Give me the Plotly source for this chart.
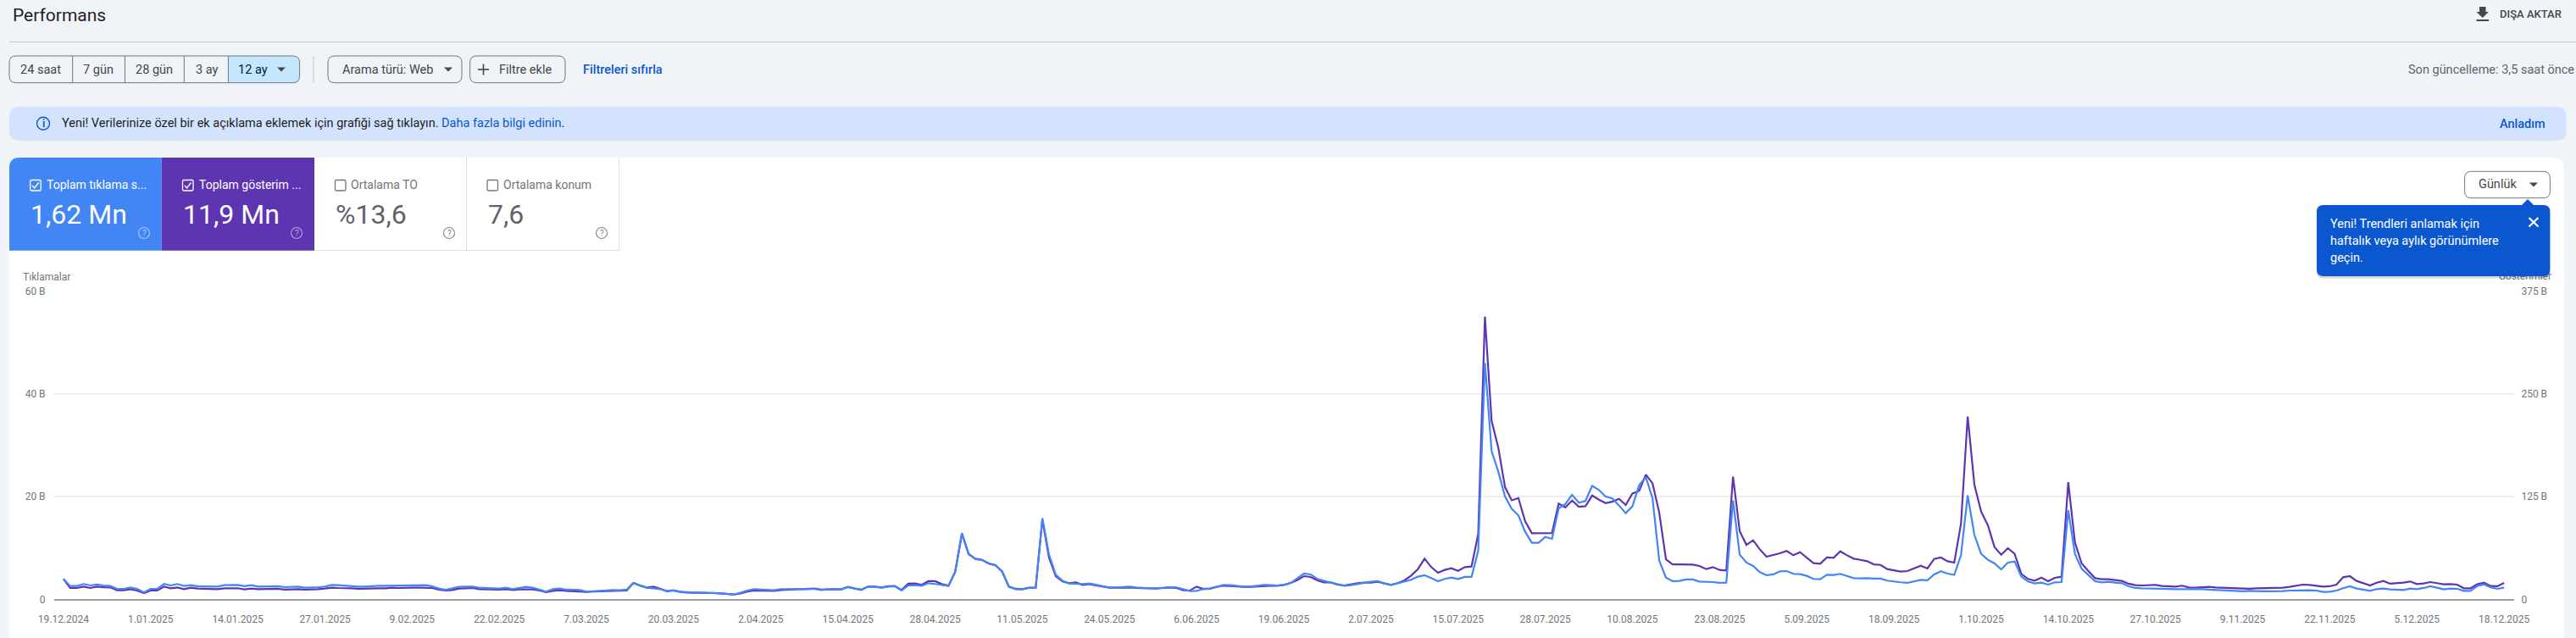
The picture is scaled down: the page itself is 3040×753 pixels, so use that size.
"""Search Console - Performans ekrani (Plotly)."""
import pandas as pd
import plotly.graph_objects as go

W, H = 3040, 753

BLUE = "#4285f4"
PURPLE = "#5e35b1"
LINK = "#0b57d0"
GREY = "#5f6368"
TICK = "#70757a"
DARK = "#444746"
BORDER = "#747775"

start_date = "2024-12-19"

# Toplam tiklama, gunluk (bin)
clicks = [
    3.96, 2.58, 2.58, 2.97, 2.69, 2.86, 2.69, 2.58, 2.03, 2.03,
    2.31, 2.03, 1.32, 2.03, 2.03, 2.97, 2.69, 2.97, 2.58, 2.75,
    2.53, 2.53, 2.47, 2.47, 2.75, 2.80, 2.80, 2.53, 2.75, 2.47,
    2.47, 2.58, 2.53, 2.36, 2.47, 2.47, 2.25, 2.25, 2.36, 2.47,
    2.80, 2.75, 2.64, 2.53, 2.47, 2.47, 2.58, 2.64, 2.64, 2.64,
    2.64, 2.69, 2.75, 2.75, 2.75, 2.53, 2.09, 1.87, 2.09, 2.42,
    2.47, 2.47, 2.25, 2.14, 2.14, 2.09, 2.25, 1.98, 2.14, 2.42,
    2.25, 1.92, 1.48, 1.98, 2.09, 1.87, 1.87, 1.81, 1.48, 1.59,
    1.70, 1.70, 1.81, 1.76, 1.87, 3.19, 2.69, 2.25, 2.14, 1.98,
    1.65, 1.76, 1.48, 1.37, 1.32, 1.32, 1.32, 1.21, 1.15, 1.04,
    0.93, 1.26, 1.70, 1.98, 1.92, 1.87, 1.76, 1.98, 1.98, 1.87,
    1.98, 1.98, 2.03, 1.81, 1.92, 1.98, 1.92, 2.36, 2.09, 1.81,
    2.42, 2.42, 2.25, 2.47, 2.53, 1.70, 2.69, 2.75, 2.64, 3.13,
    2.97, 2.75, 2.58, 5.44, 12.86, 8.90, 7.80, 7.64, 6.92, 6.59,
    5.33, 2.42, 1.98, 1.92, 2.20, 2.20, 15.77, 8.63, 4.78, 3.57,
    3.08, 3.02, 2.97, 3.08, 2.80, 2.58, 2.31, 2.31, 2.42, 2.47,
    2.31, 2.20, 2.14, 2.14, 2.25, 2.36, 2.31, 1.92, 1.59, 1.65,
    1.98, 2.03, 2.47, 2.80, 2.75, 2.58, 2.47, 2.47, 2.64, 2.80,
    2.75, 2.69, 2.80, 3.13, 4.07, 5.00, 4.84, 3.96, 3.57, 3.24,
    2.86, 2.64, 2.75, 2.91, 3.19, 3.41, 3.52, 3.08, 2.80, 3.13,
    3.52, 3.79, 4.40, 4.67, 4.12, 3.52, 3.96, 4.23, 3.96, 4.34,
    4.34, 9.45, 45.99, 28.79, 24.84, 20.00, 17.58, 16.32, 13.13, 10.99,
    10.99, 12.14, 11.76, 17.69, 18.52, 20.33, 18.79, 19.12, 22.09, 21.26,
    20.00, 19.62, 18.24, 16.76, 18.08, 22.20, 23.74, 19.62, 7.53, 4.23,
    3.52, 3.57, 3.85, 3.85, 3.46, 3.46, 3.35, 3.19, 3.24, 19.23,
    8.68, 7.14, 6.48, 5.27, 4.67, 4.84, 5.44, 5.49, 4.95, 4.89,
    4.56, 3.96, 3.90, 4.78, 4.73, 4.95, 4.56, 4.12, 4.07, 4.12,
    4.01, 4.01, 3.63, 3.41, 3.30, 3.19, 3.46, 3.79, 3.68, 4.84,
    5.44, 5.00, 4.73, 8.57, 20.22, 12.53, 8.85, 7.69, 6.98, 5.82,
    7.14, 7.36, 4.40, 3.46, 3.08, 3.24, 2.86, 3.30, 3.35, 17.31,
    8.79, 5.93, 4.73, 3.52, 3.30, 3.41, 3.24, 3.13, 2.53, 2.20,
    2.14, 2.09, 2.09, 1.98, 1.92, 1.98, 1.98, 1.98, 2.03, 1.98,
    1.87, 1.81, 1.65, 1.65, 1.54, 1.54, 1.65, 1.54, 1.54, 1.54,
    1.54, 1.59, 1.70, 1.76, 1.76, 1.76, 1.70, 1.43, 1.48, 1.70,
    2.14, 2.53, 2.09, 1.87, 1.65, 1.98, 2.09, 1.92, 1.87, 1.81,
    2.09, 1.98, 2.20, 2.53, 2.25, 1.92, 2.09, 2.03, 1.65, 1.65,
    2.58, 2.91, 2.31, 2.03, 2.25,
]

# Toplam gosterim, gunluk (bin)
impressions = [
    24.7, 13.7, 13.7, 15.4, 13.7, 15.4, 14.7, 14.4, 11.0, 11.0,
    12.3, 10.6, 7.5, 10.6, 10.6, 15.4, 13.4, 14.4, 12.3, 14.1,
    13.0, 12.7, 12.3, 12.3, 13.4, 13.7, 13.4, 12.0, 13.0, 12.3,
    12.3, 13.0, 12.7, 11.7, 12.3, 12.3, 11.7, 11.7, 12.3, 13.0,
    14.1, 13.7, 13.7, 13.4, 12.7, 13.0, 13.7, 13.4, 13.4, 14.1,
    13.7, 14.1, 14.1, 14.1, 14.1, 13.7, 11.7, 10.6, 11.3, 13.0,
    13.4, 13.7, 12.3, 12.0, 11.7, 11.7, 12.3, 11.3, 12.0, 12.3,
    12.0, 10.6, 8.6, 10.3, 11.0, 10.3, 9.9, 9.6, 8.9, 9.3,
    9.9, 9.9, 10.3, 10.3, 10.6, 19.9, 16.5, 14.1, 15.4, 13.0,
    9.6, 10.6, 8.9, 8.2, 8.2, 8.2, 8.2, 7.5, 7.2, 6.5,
    5.8, 7.2, 9.3, 10.6, 10.3, 10.3, 10.3, 11.3, 11.7, 12.0,
    12.7, 12.7, 13.0, 11.7, 12.3, 12.3, 12.0, 15.1, 13.0, 11.7,
    15.4, 15.4, 14.4, 15.8, 16.1, 11.3, 18.9, 19.2, 17.5, 22.0,
    22.0, 18.5, 16.5, 33.3, 79.6, 54.9, 49.4, 48.0, 43.6, 41.5,
    34.0, 15.4, 12.7, 12.3, 14.1, 14.1, 96.7, 50.4, 28.1, 21.6,
    19.6, 20.6, 17.5, 18.5, 16.8, 15.4, 14.1, 14.1, 14.4, 14.4,
    13.7, 13.4, 12.7, 13.0, 13.7, 14.4, 13.7, 11.0, 10.6, 15.4,
    12.7, 13.0, 15.1, 16.5, 16.1, 15.4, 15.1, 15.1, 15.8, 15.8,
    16.5, 16.5, 17.5, 19.9, 23.3, 28.1, 27.1, 23.0, 20.6, 20.6,
    17.8, 16.8, 18.2, 19.6, 20.2, 20.2, 21.3, 19.2, 17.5, 19.6,
    23.0, 28.8, 36.7, 49.4, 39.1, 32.2, 35.7, 37.7, 34.6, 39.1,
    39.8, 79.3, 343.7, 216.8, 184.2, 136.2, 120.4, 123.1, 94.7, 80.3,
    80.3, 80.6, 80.6, 116.3, 111.8, 120.1, 112.5, 113.2, 126.2, 121.1,
    117.0, 118.7, 122.1, 114.6, 128.6, 131.7, 151.6, 141.0, 105.3, 48.7,
    42.5, 42.5, 42.5, 42.2, 40.5, 36.7, 39.1, 35.7, 35.0, 149.2,
    82.7, 66.2, 71.7, 60.7, 51.8, 53.5, 55.9, 58.7, 53.5, 57.3,
    50.1, 43.9, 43.2, 50.8, 50.4, 58.3, 53.5, 49.4, 48.0, 46.3,
    42.5, 41.8, 36.7, 35.0, 33.6, 34.3, 37.7, 40.8, 37.4, 49.0,
    50.8, 46.3, 44.6, 91.9, 222.3, 139.3, 106.7, 90.2, 63.5, 54.2,
    62.1, 55.2, 30.9, 24.7, 22.6, 26.4, 22.0, 26.1, 27.4, 142.3,
    68.9, 43.6, 34.3, 25.7, 24.4, 24.4, 23.3, 22.3, 18.9, 17.2,
    16.8, 17.2, 17.5, 16.1, 15.4, 15.4, 16.5, 14.4, 14.1, 14.4,
    15.1, 14.4, 14.1, 13.7, 13.0, 12.7, 12.7, 13.4, 13.7, 13.7,
    13.7, 14.1, 15.1, 16.8, 17.8, 17.5, 16.8, 15.4, 15.8, 17.8,
    26.8, 28.1, 22.3, 19.6, 16.8, 20.2, 22.3, 18.9, 19.2, 20.2,
    21.6, 18.5, 19.2, 20.9, 19.6, 18.2, 18.5, 17.8, 13.4, 13.4,
    18.2, 20.2, 16.1, 15.8, 19.9,
]

tick_dates = ["2024-12-19", "2025-01-01", "2025-01-14", "2025-01-27", "2025-02-09",
              "2025-02-22", "2025-03-07", "2025-03-20", "2025-04-02", "2025-04-15",
              "2025-04-28", "2025-05-11", "2025-05-24", "2025-06-06", "2025-06-19",
              "2025-07-02", "2025-07-15", "2025-07-28", "2025-08-10", "2025-08-23",
              "2025-09-05", "2025-09-18", "2025-10-01", "2025-10-14", "2025-10-27",
              "2025-11-09", "2025-11-22", "2025-12-05", "2025-12-18"]
tick_labels = ["19.12.2024", "1.01.2025", "14.01.2025", "27.01.2025", "9.02.2025",
               "22.02.2025", "7.03.2025", "20.03.2025", "2.04.2025", "15.04.2025",
               "28.04.2025", "11.05.2025", "24.05.2025", "6.06.2025", "19.06.2025",
               "2.07.2025", "15.07.2025", "28.07.2025", "10.08.2025", "23.08.2025",
               "5.09.2025", "18.09.2025", "1.10.2025", "14.10.2025", "27.10.2025",
               "9.11.2025", "22.11.2025", "5.12.2025", "18.12.2025"]
clicks_ticks = [0, 20, 40, 60]
clicks_labels = ["0", "20 B", "40 B", "60 B"]
impr_ticks = [0, 125, 250, 375]
impr_labels = ["0", "125 B", "250 B", "375 B"]

dates = pd.date_range(start_date, periods=len(clicks))


def px(x):
    return x / W


def py(y):
    return 1 - y / H


def pth(*pts):
    return "M" + " L".join(f"{px(x):.6f},{py(y):.6f}" for x, y in pts) + " Z"


def rrect(x0, y0, x1, y1, r=8, tl=True, tr=True, br=True, bl=True):
    # koseleri yuvarlatilmis dikdortgen (paper koordinatlari)
    def p(x, y):
        return f"{px(x):.6f},{py(y):.6f}"
    s = "M" + p(x0 + (r if tl else 0), y0)
    s += " L" + p(x1 - (r if tr else 0), y0)
    if tr:
        s += " Q" + p(x1, y0) + " " + p(x1, y0 + r)
    s += " L" + p(x1, y1 - (r if br else 0))
    if br:
        s += " Q" + p(x1, y1) + " " + p(x1 - r, y1)
    s += " L" + p(x0 + (r if bl else 0), y1)
    if bl:
        s += " Q" + p(x0, y1) + " " + p(x0, y1 - r)
    s += " L" + p(x0, y0 + (r if tl else 0))
    if tl:
        s += " Q" + p(x0, y0) + " " + p(x0 + r, y0)
    return s + " Z"


shapes = []
notes = []


def add_path(path, fill="rgba(0,0,0,0)", line=None, width=1, layer="above"):
    shapes.append(dict(type="path", xref="paper", yref="paper", path=path, fillcolor=fill,
                       line=dict(color=line or "rgba(0,0,0,0)", width=width if line else 0),
                       layer=layer))


def add_line(x0, y0, x1, y1, color, width=1):
    shapes.append(dict(type="line", xref="paper", yref="paper", x0=px(x0), y0=py(y0),
                       x1=px(x1), y1=py(y1), line=dict(color=color, width=width), layer="above"))


def add_circle(cx, cy, r, color, width=1.2):
    shapes.append(dict(type="circle", xref="paper", yref="paper", x0=px(cx - r), y0=py(cy + r),
                       x1=px(cx + r), y1=py(cy - r), line=dict(color=color, width=width),
                       layer="above"))


def txt(x, y, s, size=14.5, color=DARK, anchor="left", weight=400):
    notes.append(dict(xref="paper", yref="paper", x=px(x), y=py(y), text=s, showarrow=False,
                      xanchor=anchor, yanchor="middle", borderpad=0, borderwidth=0,
                      font=dict(family="Roboto", size=size, color=color, weight=weight)))


def caret(cx, cy, color=DARK):
    add_path(pth((cx - 5, cy - 2.5), (cx + 5, cy - 2.5), (cx, cy + 2.5)), fill=color)


def checkbox(x, y, color, checked):
    add_path(rrect(x, y, x + 12.5, y + 12.5, r=1.5), line=color, width=1.3)
    if checked:
        shapes.append(dict(type="path", xref="paper", yref="paper", layer="above",
                           path=f"M{px(x + 2.5)},{py(y + 6.5)} L{px(x + 5)},{py(y + 9.5)} "
                                f"L{px(x + 10)},{py(y + 3)}",
                           line=dict(color=color, width=1.4)))


# Beyaz kart
add_path(rrect(11, 186, 3026, 760, r=12), fill="#ffffff", layer="below")

# Baslik
txt(15, 18, "Performans", size=21, color="#1f1f1f")
add_line(11, 49.5, 3040, 49.5, "#c7c7c7", 1)
add_path(pth((2926, 8), (2933.5, 8), (2933.5, 14), (2937, 14), (2929.7, 21), (2922.5, 14), (2926, 14)),
         fill=DARK)
add_path(pth((2922.5, 23), (2937, 23), (2937, 25), (2922.5, 25)), fill=DARK)
txt(2950, 17, "DIŞA AKTAR", size=13, color=DARK, weight=500)

# Tarih dugmeleri
add_path(rrect(269.4, 66, 353.6, 97.7, r=8, tl=False, bl=False), fill="#c2e7ff")
add_path(rrect(11, 66, 353.6, 97.7, r=8), line=BORDER)
for sep_x in [85.7, 147.4, 217.3, 269.4]:
    add_line(sep_x, 66, sep_x, 97.7, BORDER)
txt(48, 82, "24 saat", anchor="center")
txt(116, 82, "7 gün", anchor="center")
txt(182, 82, "28 gün", anchor="center")
txt(244, 82, "3 ay", anchor="center")
txt(298.5, 82, "12 ay", anchor="center", color="#001d35")
caret(332, 82)
add_line(370, 66, 370, 98, "#c7c7c7")

add_path(rrect(387, 66, 545, 97.7, r=8), line=BORDER)
txt(457, 82, "Arama türü: Web", anchor="center")
caret(529, 82)
add_path(rrect(554.6, 66, 667, 97.7, r=8), line=BORDER)
add_line(564, 82, 577, 82, DARK, 1.6)
add_line(570.5, 75.5, 570.5, 88.5, DARK, 1.6)
txt(620, 82, "Filtre ekle", anchor="center")
txt(735, 82, "Filtreleri sıfırla", anchor="center", color=LINK, weight=500)
txt(3038, 82, "Son güncelleme: 3,5 saat önce", anchor="right", color=GREY)

# Bilgi seridi
add_path(rrect(11, 126, 3028.6, 166, r=12), fill="#d3e3fd")
add_circle(51, 145.7, 7.5, LINK, 1.4)
txt(51, 146, "i", size=12, color=LINK, anchor="center", weight=700)
txt(73, 145.5,
    "Yeni! Verilerinize özel bir ek açıklama eklemek için grafiği sağ tıklayın. "
    f"<span style='color:{LINK}'>Daha fazla bilgi edinin</span>.",
    color="#1f1f1f")
txt(2977, 146, "Anladım", anchor="center", color=LINK, weight=500)

# Ozet kartlari
add_path(rrect(11, 186, 190.8, 295.7, r=12, tr=False, br=False, bl=False), fill=BLUE)
add_path(pth((190.8, 186), (371, 186), (371, 295.7), (190.8, 295.7)), fill=PURPLE)
add_line(371, 295.5, 730.6, 295.5, "#e0e0e0")
add_line(550.5, 186, 550.5, 295.5, "#e0e0e0")
add_line(730.6, 186, 730.6, 295.5, "#e0e0e0")
checkbox(35.7, 212.5, "#ffffff", True)
checkbox(215.5, 212.5, "#ffffff", True)
checkbox(395.5, 212.5, "#757575", False)
checkbox(575, 212.5, "#757575", False)
txt(54.6, 217.7, "Toplam tıklama s...", size=14, color="#ffffff")
txt(234.7, 217.7, "Toplam gösterim ...", size=14, color="#ffffff")
txt(414, 217.7, "Ortalama TO", size=14, color="#757575")
txt(594, 217.7, "Ortalama konum", size=14, color="#757575")
txt(35.7, 253, "1,62 Mn", size=32, color="#ffffff")
txt(216, 253, "11,9 Mn", size=32, color="#ffffff")
txt(396, 253, "%13,6", size=32, color=GREY)
txt(575.5, 253, "7,6", size=32, color=GREY)
for hx, hc in [(170, "rgba(255,255,255,0.55)"), (350, "rgba(255,255,255,0.55)"),
               (530, "#80868b"), (710, "#80868b")]:
    add_circle(hx, 275, 6.5, hc, 1.1)
    txt(hx, 275.5, "?", size=10, color=hc, anchor="center")

# Gunluk dugmesi ve ipucu
add_path(rrect(2908.6, 202.3, 3009.4, 233.7, r=8), line=BORDER)
txt(2947.8, 218, "Günlük", anchor="center")
caret(2990, 218)
add_path(rrect(2734, 244, 3009.4, 328.5, r=8), fill="rgba(0,0,0,0.16)")
add_path(pth((2976, 242), (2983, 235), (2990, 242)), fill=LINK)
add_path(rrect(2734, 242, 3009.4, 326, r=8), fill=LINK)
txt(2750, 264, "Yeni! Trendleri anlamak için", color="#ffffff")
txt(2750, 284, "haftalık veya aylık görünümlere", color="#ffffff")
txt(2750, 304, "geçin.", color="#ffffff")
add_line(2984.5, 257, 2995.5, 267.5, "#ffffff", 2.2)
add_line(2995.5, 257, 2984.5, 267.5, "#ffffff", 2.2)

txt(27, 327, "Tıklamalar", size=12, color=TICK)

fig = go.Figure()
fig.add_scatter(x=dates, y=impressions, mode="lines", yaxis="y", name="Gösterimler",
                line=dict(color=PURPLE, width=2.2))
# ipucunun altinda kalmasi icin eksen basligi metin izi olarak cizilir (piksel eksenleri)
fig.add_scatter(x=[3011], y=[327], mode="text", xaxis="x2", yaxis="y3",
                text=["Gösterimler"], textposition="middle left", cliponaxis=False,
                textfont=dict(family="Roboto", size=12, color=TICK), hoverinfo="skip")
fig.add_scatter(x=dates, y=clicks, mode="lines", yaxis="y2", name="Tıklamalar",
                line=dict(color=BLUE, width=2.2))

grid = "#eeeeee"
tickfont = dict(family="Roboto", size=12, color=TICK)
fig.update_layout(
    width=W, height=H, margin=dict(l=0, r=0, t=0, b=0, autoexpand=False), showlegend=False,
    paper_bgcolor="#f0f4f9", plot_bgcolor="rgba(0,0,0,0)",
    xaxis=dict(domain=[px(64), px(2967)], type="date", automargin=False,
               range=["2024-12-17 15:00", "2025-12-19 12:00"],
               tickvals=tick_dates, ticktext=tick_labels, tickangle=0, tickfont=tickfont,
               ticks="outside", ticklen=12, tickcolor="rgba(0,0,0,0)", showgrid=False,
               showline=True, linecolor="#9e9e9e", linewidth=1.5, zeroline=False),
    yaxis=dict(domain=[py(707.3), py(343.3)], range=[0, 375], side="right", automargin=False,
               tickvals=impr_ticks, ticktext=impr_labels, tickfont=tickfont,
               ticks="outside", ticklen=5, tickcolor="rgba(0,0,0,0)",
               gridcolor=grid, gridwidth=1.5, zeroline=False),
    yaxis2=dict(overlaying="y", range=[0, 60], side="left", anchor="x", automargin=False,
                tickvals=clicks_ticks, ticktext=clicks_labels, tickfont=tickfont,
                ticks="outside", ticklen=7, tickcolor="rgba(0,0,0,0)",
                showgrid=False, zeroline=False),
    xaxis2=dict(domain=[0, 1], range=[0, W], visible=False, anchor="y3", automargin=False),
    yaxis3=dict(domain=[0, 1], range=[H, 0], visible=False, anchor="x2", automargin=False),
    shapes=shapes, annotations=notes,
)

# sayfa kenar boslugunu kaldir: grafik pencereye tam otursun
fig.write_html("out.html", config={"displayModeBar": False},
               post_script="document.body.style.margin='0';")
